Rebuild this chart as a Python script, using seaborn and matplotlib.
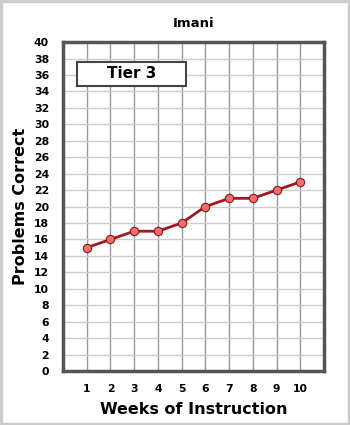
import matplotlib
matplotlib.use("Agg")
import matplotlib.pyplot as plt
import seaborn as sns
import pandas as pd
from matplotlib.patches import Rectangle

weeks = [1, 2, 3, 4, 5, 6, 7, 8, 9, 10]
problems = [15, 16, 17, 17, 18, 20, 21, 21, 22, 23]
title = "Imani"
tier_label = "Tier 3"
xlabel = "Weeks of Instruction"
ylabel = "Problems Correct"

sns.set_theme(style="white")
plt.rcParams['font.family'] = ['DejaVu Sans']
plt.rcParams['text.color'] = 'black'
plt.rcParams['axes.labelcolor'] = 'black'
plt.rcParams['xtick.labelcolor'] = 'black'
plt.rcParams['ytick.labelcolor'] = 'black'

df = pd.DataFrame({"week": weeks, "correct": problems})

fig = plt.figure(figsize=(3.5, 4.25), dpi=100)
ax = fig.add_axes([0.18, 0.127, 0.746, 0.774])

sns.lineplot(data=df, x="week", y="correct", ax=ax, color="#a3171e", linewidth=2,
             marker="o", markersize=6, markerfacecolor="#f26d6d",
             markeredgecolor="#8a1a1a", markeredgewidth=0.8, zorder=5)

ax.set_xlim(0, 11)
ax.set_ylim(0, 40)
ax.set_xticks(list(range(1, 12)))
ax.set_xticklabels([str(w) for w in weeks] + [""])
ax.set_yticks(list(range(0, 41, 2)))
ax.set_yticklabels([str(v) for v in range(0, 41, 2)])

for x in range(1, 11):
    ax.axvline(x, color="#9a9a9a", linewidth=1, zorder=1)
for y in range(2, 40, 2):
    ax.axhline(y, color="#cccccc", linewidth=1, zorder=1)

ax.tick_params(axis="y", length=7, width=1, color="#bbbbbb", pad=3, labelsize=7.8,
               labelcolor="black")
ax.tick_params(axis="x", length=4, width=1, color="#9a9a9a", pad=5, labelsize=7.8,
               labelcolor="black")
for lab in ax.get_xticklabels() + ax.get_yticklabels():
    lab.set_fontweight("bold")

for s in ax.spines.values():
    s.set_color("#555555")
    s.set_linewidth(2.5)
    s.set_visible(True)

ax.set_xlabel(xlabel, fontsize=11.5, fontweight="bold", labelpad=6, color="black")
ax.set_ylabel(ylabel, fontsize=11.5, fontweight="bold", labelpad=4, color="black")
ax.set_title(title, fontsize=9.5, fontweight="bold", pad=11, color="black")

rect = Rectangle((0.6, 34.7), 4.6, 2.9, facecolor="white", edgecolor="#444444",
                 linewidth=1.5, zorder=6)
ax.add_patch(rect)
ax.text(2.9, 36.15, tier_label, ha="center", va="center", fontsize=11,
        fontweight="bold", zorder=7, color="black")

border = Rectangle((0.003, 0.003), 0.994, 0.994, transform=fig.transFigure,
                   facecolor="none", edgecolor="#cccccc", linewidth=2.5)
fig.patches.append(border)

fig.savefig("out.png", dpi=100)
